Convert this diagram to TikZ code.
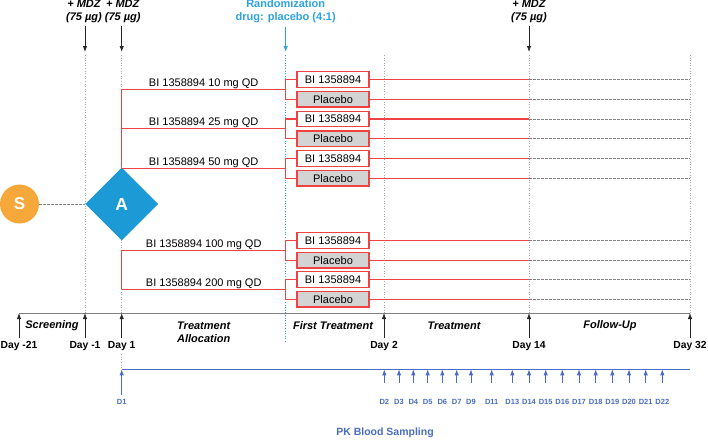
\documentclass[tikz,border=0pt]{standalone}
\usepackage{fontspec}
\setmainfont{Liberation Sans}
\usetikzlibrary{arrows.meta,shapes.geometric}
\definecolor{ffaaqq}{rgb}{0.965,0.659,0.231}
\definecolor{qqaadd}{rgb}{0.106,0.604,0.839}
\definecolor{zzaaee}{rgb}{0.176,0.635,0.890}
\definecolor{ffqqqq}{rgb}{0.937,0.259,0.259}
\definecolor{wwqqcc}{rgb}{0.290,0.424,0.761}
\definecolor{dddddd}{rgb}{0.827,0.827,0.827}

\begin{document}
\begin{tikzpicture}[x=1pt,y=-1pt,>={Latex[length=6pt,width=4.4pt]},font=\fontsize{11}{13}\selectfont,
  armbox/.style={draw=ffqqqq,line width=1.1pt,minimum width=72pt,minimum height=15.5pt,inner sep=0pt},
  pbobox/.style={armbox,fill=dddddd},
  armline/.style={line width=1.1pt,color=ffqqqq},
  grid/.style={color=gray!70,dotted,line width=0.6pt},
  phase/.style={font=\fontsize{11}{13}\selectfont\bfseries\itshape,align=center},
  daylbl/.style={font=\fontsize{10.3}{12}\selectfont\bfseries},
  pklbl/.style={font=\fontsize{7.5}{9}\selectfont\bfseries,color=wwqqcc,inner sep=1pt}]
\useasboundingbox (0,0) rectangle (708,440);

% columns of the time axis
\coordinate (scr top) at (19,55);     \coordinate (scr axis) at (19,313);    \coordinate (scr dpos) at (19,346);
\coordinate (pre top) at (85,55);     \coordinate (pre axis) at (85,313);    \coordinate (pre dpos) at (85,346);
\coordinate (dy1 top) at (121.7,55);  \coordinate (dy1 axis) at (121.7,313); \coordinate (dy1 dpos) at (121.7,346);
\coordinate (rnd top) at (285.7,55);  \coordinate (rnd end) at (285.7,342);
\coordinate (dy2 top) at (384,55);    \coordinate (dy2 axis) at (384,313);   \coordinate (dy2 dpos) at (384,346);
\coordinate (d14 top) at (529,55);    \coordinate (d14 axis) at (529,313);   \coordinate (d14 dpos) at (529,346);
\coordinate (d32 top) at (690,55);    \coordinate (d32 axis) at (690,313);   \coordinate (d32 dpos) at (690,346);
\foreach \n in {pre,dy1,dy2,d14,d32} \draw[grid] (\n\space top) -- (\n\space axis);
\draw[dotted,color=zzaaee,line width=0.6pt] (rnd top) -- (rnd end);

% dosing and randomization
\node[phase] (mdz1) at (84,11.5) {+ MDZ\\(75 µg)};
\node[phase] (mdz2) at (122.7,11.5) {+ MDZ\\(75 µg)};
\node[phase] (mdz3) at (529,11.5) {+ MDZ\\(75 µg)};
\node[font=\fontsize{11}{13}\selectfont\bfseries,color=zzaaee,align=center] (rand) at (285.7,11.5) {Randomization\\drug: placebo (4:1)};
\draw[->,line width=0.8pt,black!85,shorten >=3pt] (mdz1.south -| pre top) -- (pre top);
\draw[->,line width=0.8pt,black!85,shorten >=3pt] (mdz2.south -| dy1 top) -- (dy1 top);
\draw[->,line width=0.8pt,black!85,shorten >=3pt] (mdz3) -- (d14 top);
\draw[->,line width=0.8pt,zzaaee,shorten >=3pt] (rand) -- (rnd top);

% screening and allocation
\node[circle,fill=ffaaqq,minimum size=39pt,inner sep=0pt,text=white,font=\fontsize{17}{19}\selectfont\bfseries] (scr) at (19.5,204) {S};
\node[diamond,fill=qqaadd,minimum width=73pt,minimum height=73pt,inner sep=0pt,text=white,font=\fontsize{17.5}{19}\selectfont\bfseries] (alloc) at (121.7,204) {A};
\draw[dash pattern=on 2.5pt off 1.5pt,gray,line width=0.8pt] (scr) -- (alloc.west);

% treatment arms
\foreach \i/\y/\dose in {1/79.5/10,2/119/25,3/158.5/50,4/240.5/100,5/279.5/200}{
  \node[armbox] (act\i) at (333,\y) {BI 1358894};
  \node[pbobox] (pbo\i) at (333,\y+19.7) {Placebo};
  \coordinate (arm\i) at (121.7,\y+9.85);
  \coordinate (split\i) at (285.7,\y+9.85);
  \draw[armline] (arm\i) -- node[above,inner sep=0.5pt,black]{BI 1358894 \dose\ mg QD} (split\i);
  \draw[armline] (act\i.west) -| (split\i) |- (pbo\i.west);
  \foreach \b in {act\i,pbo\i}{
    \draw[armline] (\b.east) -- (\b.east -| d14 top);
    \draw[dash pattern=on 2.5pt off 1.5pt,gray,line width=0.8pt] (\b.east -| d14 top) -- (\b.east -| d32 top);
  }
}
\draw[armline] (arm1) -- (alloc.north);
\draw[armline] (arm4) -- (arm5);

% time axis
\draw[gray,line width=0.8pt] (scr axis) -- (d32 axis);
\foreach \n/\lbl in {scr/Day -21,pre/Day -1,dy1/Day 1,dy2/Day 2,d14/Day 14,d32/Day 32}{
  \node[daylbl] (\n day) at (\n\space dpos) {\lbl};
  \draw[->,line width=0.8pt,black!85] (\n day) -- (\n\space axis);
}
\node[phase] (ph1) at (52,326) {Screening};
\node[phase] (ph2) at (203.7,332.4) {Treatment\\Allocation};
\node[phase] (ph3) at (333,326) {First Treatment};
\node[phase] (ph4) at (454,326) {Treatment};
\node[phase] (ph5) at (610,326) {Follow-Up};

% PK sampling
\coordinate (pk start) at (121.7,369.3);
\coordinate (pk end) at (690,369.3);
\draw[grid] (dy1day) -- (pk start);
\draw[wwqqcc,line width=1.2pt] (pk start) -- (pk end);
\node[pklbl] (pk1) at (121.7,401.7) {D1};
\draw[->,wwqqcc,line width=0.8pt,shorten <=3pt] (pk1) -- (pk start);
\foreach \d/\x in {2/384.3,3/399,4/413.3,5/427.7,6/442.3,7/456.7,9/471,11/491.7,13/512.3,14/529,15/545.7,16/562.3,17/579,18/595.7,19/612.3,20/629,21/645.7,22/662.3}{
  \node[pklbl] (pk\d) at (\x,401.7) {D\d};
  \coordinate (pkt\d) at (\x,369.3);
  \draw[->,wwqqcc,line width=0.8pt,shorten <=15pt] (pk\d) -- (pkt\d);
}
\node[font=\fontsize{10.5}{12}\selectfont\bfseries,color=wwqqcc] (pktitle) at (385,433) {PK Blood Sampling};
\end{tikzpicture}
\end{document}
